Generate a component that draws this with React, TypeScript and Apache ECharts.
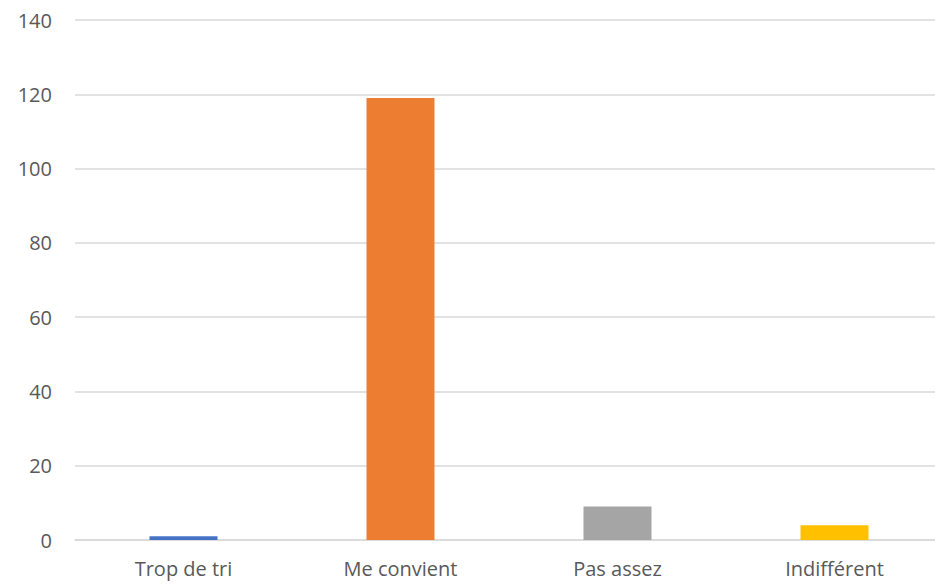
import React, { useEffect, useRef } from "react";
import * as echarts from "echarts";

const categories = ["Trop de tri", "Me convient", "Pas assez", "Indifférent"];
const values = [1, 119, 9, 4];
const colors = ["#4472C4", "#ED7D31", "#A5A5A5", "#FFC000"];
const yTicks = { min: 0, max: 140, interval: 20 };

export default function App() {
  const ref = useRef<HTMLDivElement>(null);
  useEffect(() => {
    if (!ref.current) return;
    const chart = echarts.init(ref.current, undefined, { renderer: "svg" });
    chart.setOption({
      animation: false,
      backgroundColor: "#ffffff",
      textStyle: { fontFamily: "Open Sans" },
      grid: {
        left: 75,
        width: 868,
        top: 20,
        bottom: 46,
        containLabel: false,
        outerBoundsMode: "none",
      },
      xAxis: {
        type: "category",
        data: categories,
        axisLine: { show: true, lineStyle: { color: "#d9d9d9", width: 1.5 } },
        axisTick: { show: false },
        axisLabel: { color: "#595959", fontSize: 20, margin: 18 },
      },
      yAxis: {
        type: "value",
        min: yTicks.min,
        max: yTicks.max,
        interval: yTicks.interval,
        axisLine: { show: false },
        axisTick: { show: false },
        axisLabel: { color: "#595959", fontSize: 20, margin: 23 },
        splitLine: { lineStyle: { color: "#d9d9d9", width: 1.5 } },
      },
      series: [
        {
          type: "bar",
          barWidth: 68,
          data: values.map((v, i) => ({ value: v, itemStyle: { color: colors[i] } })),
        },
      ],
    });
    return () => chart.dispose();
  }, []);
  return (
    <div
      ref={ref}
      style={{ position: "fixed", left: 0, top: 0, width: 935, height: 586, background: "#fff" }}
    />
  );
}
